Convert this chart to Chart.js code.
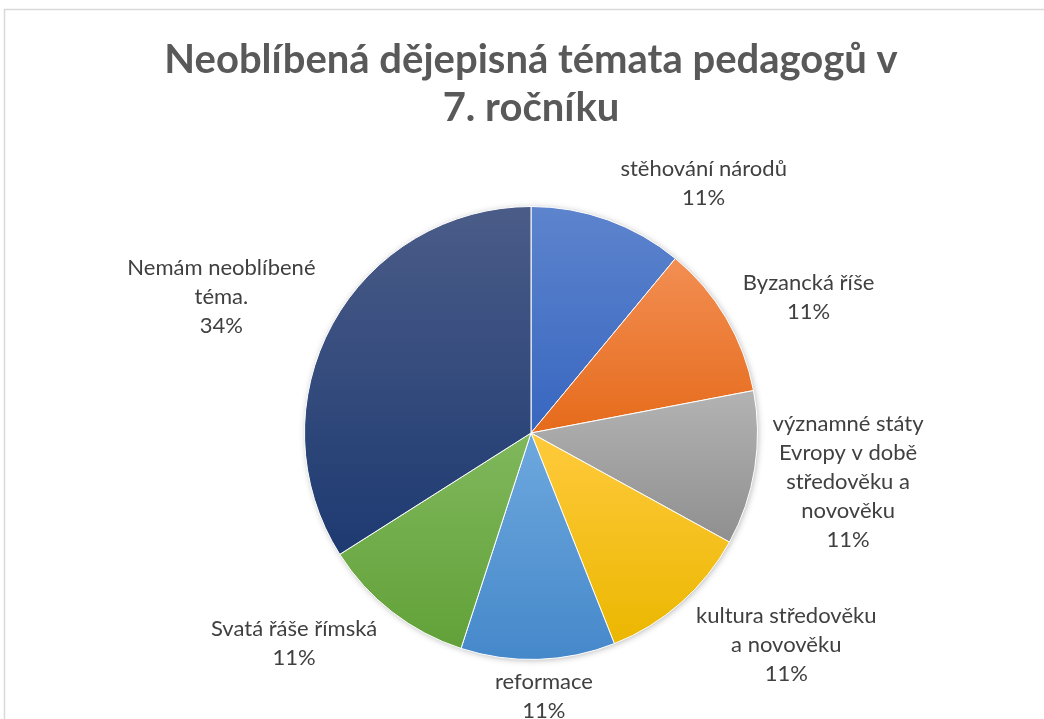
<!DOCTYPE html>
<html>
<head>
<meta charset="utf-8">
<script src="https://cdn.jsdelivr.net/npm/chart.js@4.4.0/dist/chart.umd.min.js"></script>
<style>
    html, body { margin: 0; padding: 0; background: #fff; }
</style>
</head>
<body>
<canvas id="pieChart" width="1044" height="719"></canvas>
<script>
var titleLines = ["Neoblíbená dějepisná témata pedagogů v", "7. ročníku"];

// category names, already broken into lines the way the labels are shown
var topics = [
    ["stěhování národů"],
    ["Byzancká říše"],
    ["významné státy", "Evropy v době", "středověku a", "novověku"],
    ["kultura středověku", "a novověku"],
    ["reformace"],
    ["Svatá řáše římská"],
    ["Nemám neoblíbené", "téma."]
];
var shares = [11, 11, 11, 11, 11, 11, 34];

var topColors = ['#5d84cd', '#f28e53', '#b3b3b3', '#ffca3c', '#6ea8de', '#80b85c', '#4b5c88'];
var bottomColors = ['#3866c0', '#e66b1b', '#8f8f8f', '#ebb700', '#4588ca', '#62a139', '#1d3a71'];

function sum(arr) {
    return arr.reduce((a, b) => a + b, 0);
}

// vertical gradient over each slice's own bounding box (like the Excel fill)
function sliceGradient(context) {
    let chart = context.chart;
    let area = chart.chartArea;
    let i = context.dataIndex;
    if (!area) return bottomColors[i];
    let total = sum(shares);
    let a0 = -Math.PI / 2 + sum(shares.slice(0, i)) / total * 2 * Math.PI;
    let a1 = a0 + shares[i] / total * 2 * Math.PI;
    let cy = (area.top + area.bottom) / 2;
    let r = Math.min(area.width, area.height) / 2;
    let ys = [cy, cy + r * Math.sin(a0), cy + r * Math.sin(a1)];
    [-Math.PI / 2, Math.PI / 2, 3 * Math.PI / 2].forEach(a => {
        if (a >= a0 && a <= a1) ys.push(cy + r * Math.sin(a));
    });
    let g = chart.ctx.createLinearGradient(0, Math.min(...ys), 0, Math.max(...ys));
    g.addColorStop(0, topColors[i]);
    g.addColorStop(1, bottomColors[i]);
    return g;
}

var frame = {
    id: 'frame',
    beforeDraw(chart) {
        let ctx = chart.ctx;
        ctx.save();
        ctx.strokeStyle = '#d9d9d9';
        ctx.lineWidth = 1.5;
        ctx.strokeRect(4.5, 9.5, 3000, 3000);
        ctx.restore();
    }
};

// soft shadow under the whole pie
var pieShadow = {
    id: 'pieShadow',
    beforeDatasetsDraw(chart) {
        let arc = chart.getDatasetMeta(0).data[0];
        if (!arc) return;
        let ctx = chart.ctx;
        ctx.save();
        ctx.shadowColor = 'rgba(0,0,0,0.35)';
        ctx.shadowBlur = 7;
        ctx.shadowOffsetX = 1;
        ctx.shadowOffsetY = 1;
        ctx.fillStyle = '#fff';
        ctx.beginPath();
        ctx.arc(arc.x, arc.y, arc.outerRadius - 1, 0, 2 * Math.PI);
        ctx.fill();
        ctx.restore();
    }
};

function clamp(v) {
    return Math.max(-1, Math.min(1, v));
}

// data labels outside the pie: name + percentage
var sliceLabels = {
    id: 'sliceLabels',
    afterDatasetsDraw(chart) {
        let ctx = chart.ctx;
        let meta = chart.getDatasetMeta(0);
        let total = sum(shares);
        let lineH = 29;
        ctx.save();
        ctx.font = '22px Lato';
        ctx.fillStyle = '#404040';
        ctx.textAlign = 'center';
        ctx.textBaseline = 'middle';
        meta.data.forEach((arc, i) => {
            let lines = topics[i].concat([Math.round(shares[i] / total * 100) + '%']);
            let w = Math.max(...lines.map(l => ctx.measureText(l).width));
            let h = lines.length * lineH;
            let mid = (arc.startAngle + arc.endAngle) / 2;
            let ux = Math.cos(mid), uy = Math.sin(mid);
            let d = arc.outerRadius + 8;
            let sx = clamp(ux * 3);
            let bx = arc.x + d * ux + (w / 2 + 10) * sx;
            let by = arc.y + d * uy + h / 2 * clamp(uy * 1.1);
            lines.forEach((l, j) => {
                ctx.fillText(l, bx, by - h / 2 + lineH * (j + 0.5));
            });
        });
        ctx.restore();
    }
};

let ctx = document.getElementById("pieChart");
let chart = new Chart(ctx, {
    type: 'pie',
    data: {
        labels: topics,
        datasets: [{
            data: shares,
            backgroundColor: sliceGradient,
            borderColor: '#ffffff',
            borderWidth: 1
        }]
    },
    options: {
        responsive: false,
        animation: false,
        layout: {
            padding: { left: 18, right: 0, top: 0, bottom: 59 }
        },
        plugins: {
            legend: { display: false },
            tooltip: { enabled: false },
            title: {
                display: true,
                text: titleLines,
                color: '#595959',
                font: { family: 'Lato', size: 40, weight: 'bold', lineHeight: 1.2 },
                padding: { top: 36, bottom: 74 }
            }
        }
    },
    plugins: [frame, pieShadow, sliceLabels]
});
</script>
</body>
</html>
